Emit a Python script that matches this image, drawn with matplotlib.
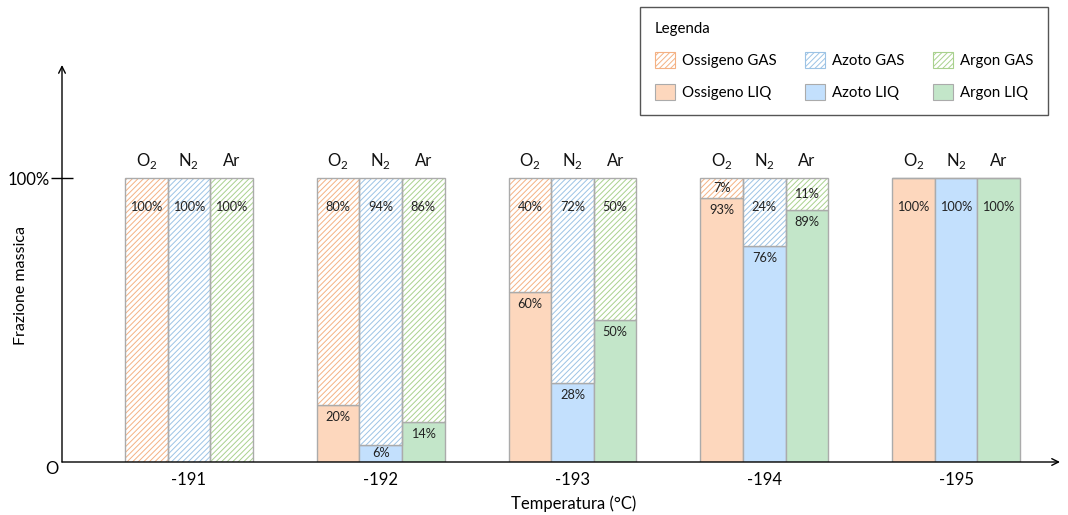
import matplotlib
matplotlib.use("Agg")
import matplotlib.pyplot as plt
from matplotlib.patches import Patch
import numpy as np

plt.rcParams['font.family'] = ['Lato', 'DejaVu Sans']
plt.rcParams['mathtext.fontset'] = 'custom'
plt.rcParams['mathtext.rm'] = 'Lato'
plt.rcParams['hatch.linewidth'] = 0.7

# Data: mass fraction (%) in liquid and gas phase at each temperature
temperatures = ["-191", "-192", "-193", "-194", "-195"]
species = ["O$_2$", "N$_2$", "Ar"]
o2_liq = [0, 20, 60, 93, 100]
n2_liq = [0, 6, 28, 76, 100]
ar_liq = [0, 14, 50, 89, 100]
o2_gas = [100, 80, 40, 7, 0]
n2_gas = [100, 94, 72, 24, 0]
ar_gas = [100, 86, 50, 11, 0]

liq_series = [o2_liq, n2_liq, ar_liq]
gas_series = [o2_gas, n2_gas, ar_gas]
liq_colors = ["#FDD7BD", "#C3E0FD", "#C3E6C9"]
hatch_colors = ["#F4B183", "#9CC3E5", "#A9D18E"]
edge_grey = "#ABABAB"
names_liq = ["Ossigeno LIQ", "Azoto LIQ", "Argon LIQ"]
names_gas = ["Ossigeno GAS", "Azoto GAS", "Argon GAS"]

fig = plt.figure(figsize=(10.68, 5.15), dpi=100)
W, H = 1068, 515
ax = fig.add_axes([62 / W, (H - 462) / H, (1060 - 62) / W, (462 - 65) / H])

x = np.arange(len(temperatures))
bw = 0.222
offsets = [-bw, 0, bw]
lab_fs = 9.2

for k in range(3):
    xs = x + offsets[k]
    liq = np.array(liq_series[k]) / 100
    gas = np.array(gas_series[k]) / 100
    # liquid part (solid fill)
    ax.bar(xs, liq, width=bw, color=liq_colors[k], edgecolor=edge_grey,
           linewidth=1.0, zorder=2)
    # gas part (hatched) stacked above the liquid part
    ax.bar(xs, gas, width=bw, bottom=liq, facecolor="white",
           edgecolor=hatch_colors[k], hatch="//////", linewidth=0, zorder=2)
    ax.bar(xs, gas, width=bw, bottom=liq, facecolor="none",
           edgecolor=edge_grey, linewidth=1.0, zorder=3)
    for i in range(len(temperatures)):
        if liq_series[k][i] > 0:
            off = 0.1 if liq_series[k][i] == 100 else min(0.042, liq[i] / 2)
            ax.text(xs[i], liq[i] - off, f"{liq_series[k][i]}%", ha="center",
                    va="center", fontsize=lab_fs, color="#222222", zorder=4)
        if gas_series[k][i] > 0:
            top = liq[i] + gas[i]
            off = min(0.1, gas[i] / 2)
            ax.text(xs[i], top - off, f"{gas_series[k][i]}%", ha="center",
                    va="center", fontsize=lab_fs, color="#222222", zorder=4)
        # species labels above each column
        ax.text(xs[i], 1.062, species[k], ha="center", va="center",
                fontsize=12, color="#111111")

ax.set_xlim(-0.662, 4.542)
ax.set_ylim(0, 1.4)

# axes drawn as arrows
for s in ax.spines.values():
    s.set_visible(False)
ax.annotate("", xy=(0, 1.0), xycoords="axes fraction", xytext=(0, 0),
            arrowprops=dict(arrowstyle="->", lw=1.0, color="black",
                            mutation_scale=12, shrinkA=0, shrinkB=0))
ax.annotate("", xy=(1.0, 0), xycoords="axes fraction", xytext=(0, 0),
            arrowprops=dict(arrowstyle="->", lw=1.0, color="black",
                            mutation_scale=12, shrinkA=0, shrinkB=0))

ax.set_xticks(x)
ax.set_xticklabels(temperatures, fontsize=12)
ax.tick_params(axis="x", length=0, pad=7)
ax.set_yticks([1.0])
ax.set_yticklabels(["100%"], fontsize=12)
ax.tick_params(axis="y", direction="inout", length=16, width=1.0, pad=1)
ax.text(-0.01, -0.018, "O", transform=ax.transAxes, ha="center",
        va="center", fontsize=12)

ax.set_xlabel("Temperatura (°C)", fontsize=12)
ax.xaxis.set_label_coords(0.513, -0.083)
ax.set_ylabel("Frazione massica", fontsize=11.5)
ax.yaxis.set_label_coords(-0.034, 0.445)

handles = []
for k in range(3):
    handles.append(Patch(facecolor="white", edgecolor=hatch_colors[k],
                         hatch="//////", linewidth=0.8, label=names_gas[k]))
    handles.append(Patch(facecolor=liq_colors[k], edgecolor=edge_grey,
                         linewidth=0.8, label=names_liq[k]))
leg = fig.legend(handles=handles, ncol=3, title="Legenda",
                 loc="upper left", bbox_to_anchor=(640 / W, 1 - 7 / H),
                 borderaxespad=0,
                 fontsize=10.8, title_fontsize=10.8, fancybox=False,
                 edgecolor="#555555", framealpha=1, borderpad=1.0,
                 handlelength=1.3, handleheight=1.3, handletextpad=0.5,
                 columnspacing=1.9, labelspacing=1.05)
leg._legend_box.align = "left"
leg.get_frame().set_linewidth(1.0)

fig.savefig("out.png", dpi=100)
